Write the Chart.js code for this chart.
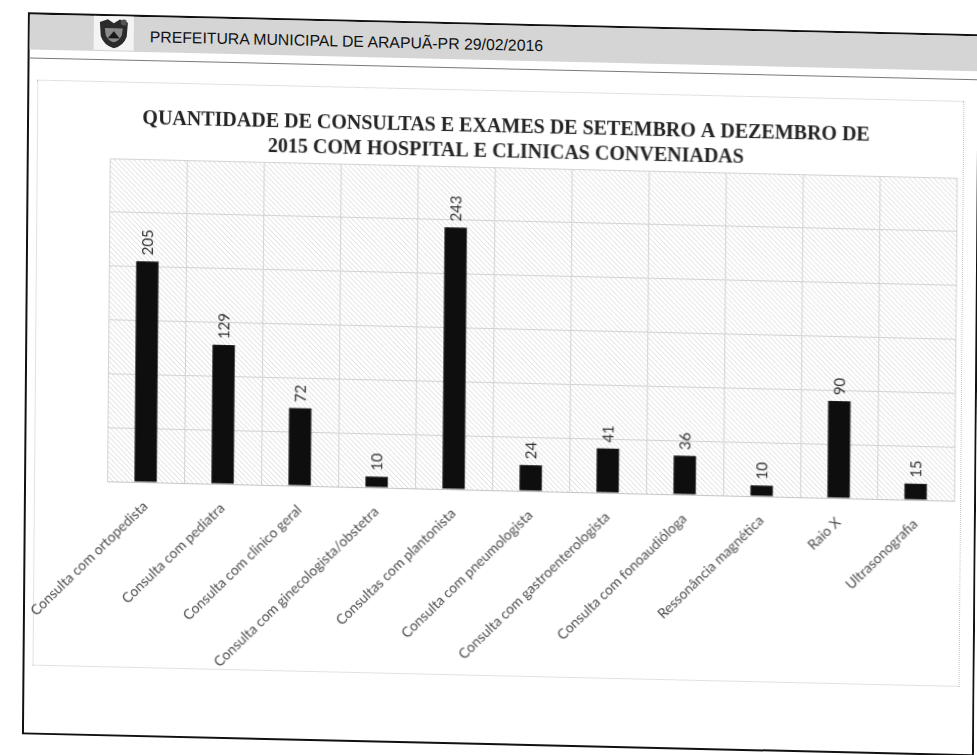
<!DOCTYPE html>
<html>
<head>
<meta charset="utf-8">
<script src="https://cdn.jsdelivr.net/npm/chart.js@4"></script>
<style>
  html, body { margin: 0; padding: 0; background: #fff; }
  #page {
    position: relative; width: 977px; height: 755px; overflow: hidden;
    transform: matrix(1, 0.023, -0.0083, 1, 0, 0); transform-origin: 488px 377px;
  }
  #frame { position: absolute; left: 25px; top: 23px; width: 948px; height: 718px; border: 2px solid #111; }
  #band { position: absolute; left: 27px; top: 25px; width: 950px; height: 35px; background: #d5d5d5; }
  #rule { position: absolute; left: 27px; top: 68px; width: 950px; height: 1px; background: #7a7a7a; }
  #crest { position: absolute; left: 91px; top: 25px; width: 40px; height: 34px; background: #f4f4f4; }
  #head {
    position: absolute; left: 147px; top: 37px; font: 15.8px "Liberation Sans", Arial, sans-serif;
    line-height: 16px; color: #111; white-space: nowrap;
  }
  #box { position: absolute; left: 36px; top: 91px; width: 925px; height: 584px; outline: 1px dotted #c4c4c4; }
  #myChart { position: absolute; left: 20px; top: 91px; }
</style>
</head>
<body>
<div id="page">
  <div id="frame"></div>
  <div id="band"></div>
  <div id="rule"></div>
  <div id="crest">
    <svg width="40" height="34" viewBox="0 0 40 34">
      <path d="M6 6 L14 3 L20 7 L26 3 L34 6 L33 20 Q30 29 20 32 Q10 29 7 20 Z" fill="#2b2b2b"/>
      <path d="M11 12 L29 12 L28 19 Q25 25 20 26 Q15 25 12 19 Z" fill="#8a8a8a"/>
      <path d="M14 22 L20 15 L26 22 Z" fill="#1a1a1a"/>
      <circle cx="30" cy="6" r="3" fill="#555"/>
    </svg>
  </div>
  <div id="head">PREFEITURA MUNICIPAL DE ARAPUÃ-PR 29/02/2016</div>
  <div id="box"></div>
  <canvas id="myChart" width="941" height="584"></canvas>
</div>
<script>
// chart data
const categorias = [
  'Consulta com ortopedista',
  'Consulta com pediatra',
  'Consulta com clinico geral',
  'Consulta com ginecologista/obstetra',
  'Consultas com plantonista',
  'Consulta com pneumologista',
  'Consulta com gastroenterologista',
  'Consulta com fonoaudióloga',
  'Ressonância magnética',
  'Raio X',
  'Ultrasonografia'
];
const quantidades = [205, 129, 72, 10, 243, 24, 41, 36, 10, 90, 15];
const titulo = [
  'QUANTIDADE DE CONSULTAS E EXAMES DE SETEMBRO A DEZEMBRO DE',
  '2015 COM HOSPITAL E CLINICAS CONVENIADAS'
];
const eixoY = { min: 0, max: 300, passo: 50 };

// hatched plot background
const hatch = {
  id: 'hatch',
  beforeDraw(chart) {
    const a = chart.chartArea;
    const tile = document.createElement('canvas');
    tile.width = 5; tile.height = 5;
    const t = tile.getContext('2d');
    t.strokeStyle = '#dadada';
    t.lineWidth = 1;
    t.beginPath();
    t.moveTo(-1, -1); t.lineTo(6, 6);
    t.moveTo(-1, 4); t.lineTo(1, 6);
    t.moveTo(4, -1); t.lineTo(6, 1);
    t.stroke();
    const ctx = chart.ctx;
    ctx.save();
    ctx.fillStyle = ctx.createPattern(tile, 'repeat');
    ctx.fillRect(a.left, a.top, a.right - a.left, a.bottom - a.top);
    ctx.restore();
  }
};

// value labels, rotated, above each bar
const rotulos = {
  id: 'rotulos',
  afterDatasetsDraw(chart) {
    const ctx = chart.ctx;
    const meta = chart.getDatasetMeta(0);
    ctx.save();
    ctx.font = '15px Lato, sans-serif';
    ctx.fillStyle = '#2e2e2e';
    ctx.textAlign = 'left';
    ctx.textBaseline = 'middle';
    meta.data.forEach((bar, i) => {
      ctx.save();
      ctx.translate(bar.x + 1, bar.y - 6);
      ctx.rotate(-Math.PI / 2);
      ctx.fillText(String(quantidades[i]), 0, 0);
      ctx.restore();
    });
    ctx.restore();
  }
};

const myChart = new Chart(document.getElementById('myChart'), {
  type: 'bar',
  data: {
    labels: categorias,
    datasets: [{
      data: quantidades,
      backgroundColor: '#0e0e0e',
      borderWidth: 0,
      barPercentage: 0.29,
      categoryPercentage: 1
    }]
  },
  options: {
    responsive: false,
    animation: false,
    devicePixelRatio: 1,
    layout: { padding: { left: 33, right: 6, top: 0, bottom: 0 } },
    plugins: {
      legend: { display: false },
      tooltip: { enabled: false },
      title: {
        display: true,
        text: titulo,
        color: '#222',
        font: { family: '"Liberation Serif", serif', size: 20, weight: 'bold', lineHeight: 1.25 },
        padding: { top: 23, bottom: 3 }
      }
    },
    scales: {
      x: {
        grid: { color: '#d2d2d2', drawTicks: false, offset: true },
        border: { color: '#c4c4c4' },
        ticks: {
          color: '#4a4a4a',
          font: { family: 'Lato, sans-serif', size: 14 },
          minRotation: 45,
          maxRotation: 45,
          autoSkip: false,
          padding: 16
        },
        afterFit(s) {
          s.height = 185;
          s.paddingLeft = 0;
          s.paddingRight = 0;
        }
      },
      y: {
        min: eixoY.min,
        max: eixoY.max,
        ticks: { stepSize: eixoY.passo, display: false },
        grid: { color: '#d2d2d2', drawTicks: false },
        border: { display: false },
        afterFit(s) { s.width = 55; }
      }
    }
  },
  plugins: [hatch, rotulos]
});
</script>
</body>
</html>
